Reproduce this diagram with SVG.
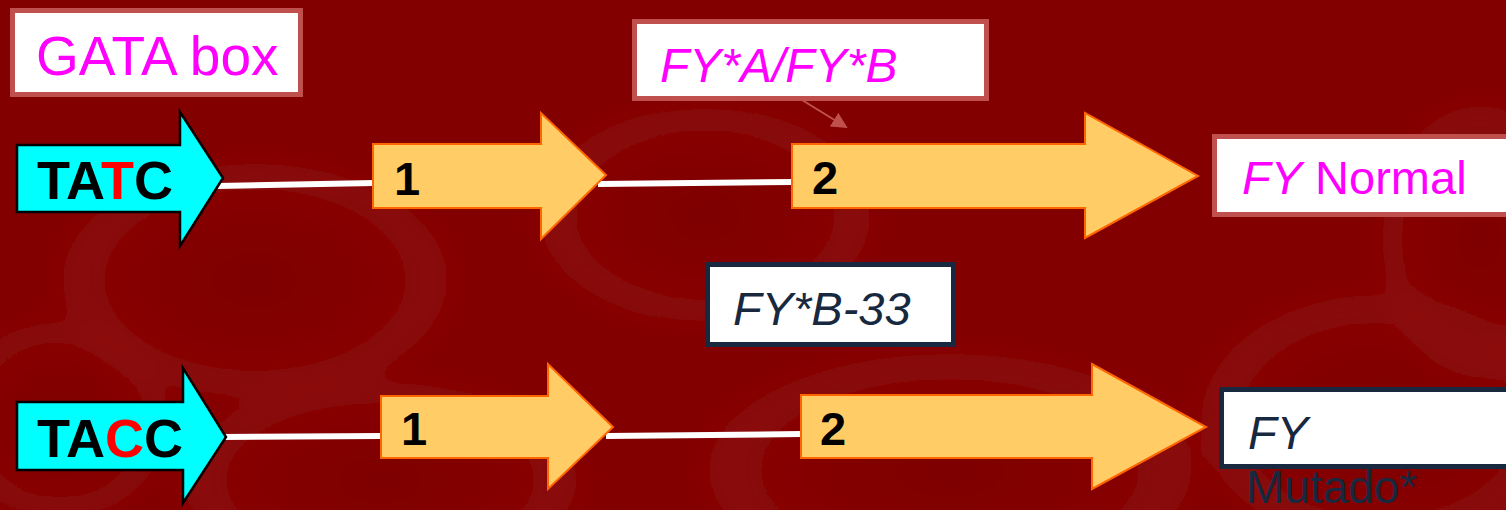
<svg xmlns="http://www.w3.org/2000/svg" width="1506" height="510" viewBox="0 0 1506 510">
  <defs>
    <radialGradient id="cell" cx="0.5" cy="0.5" r="0.5">
      <stop offset="0" stop-color="#7a0000" stop-opacity="0.5"/>
      <stop offset="0.55" stop-color="#870606" stop-opacity="0.45"/>
      <stop offset="0.85" stop-color="#931414" stop-opacity="0.55"/>
      <stop offset="1" stop-color="#8a0606" stop-opacity="0"/>
    </radialGradient>
    <marker id="tip" markerWidth="8" markerHeight="8" refX="7" refY="4" orient="auto" markerUnits="strokeWidth">
      <path d="M0,0 L8,4 L0,8 z" fill="#c0504d"/>
    </marker>
    <filter id="soft" x="-20%" y="-20%" width="140%" height="140%">
      <feGaussianBlur stdDeviation="12"/>
    </filter>
  </defs>
  <style>
    .lbl { font-family: "Liberation Sans", Arial, sans-serif; }
    .red-box { fill: #ffffff; stroke: #c0504d; stroke-width: 5; }
    .navy-box { fill: #ffffff; stroke: #17283f; stroke-width: 5; }
    .gene { fill: #ffcc66; stroke: #ff6600; stroke-width: 2; }
    .promoter { fill: #00ffff; stroke: #000000; stroke-width: 2.5; }
    .link { stroke: #ffffff; stroke-width: 6; fill: none; }
    .pink { fill: #ff00ff; }
    .navy { fill: #17283f; }
    .seq { font-weight: bold; font-size: 54px; fill: #000000; }
    .exon { font-weight: bold; font-size: 47px; fill: #000000; }
  </style>

  <!-- backdrop: dark red with soft blood cells -->
  <rect x="0" y="0" width="1506" height="510" fill="#820000"/>
  <g id="backdrop" filter="url(#soft)">
    <ellipse cx="255" cy="280" rx="215" ry="130" fill="url(#cell)"/>
    <ellipse cx="705" cy="215" rx="185" ry="120" fill="url(#cell)"/>
    <ellipse cx="950" cy="470" rx="270" ry="130" fill="url(#cell)"/>
    <ellipse cx="1380" cy="420" rx="200" ry="140" fill="url(#cell)"/>
    <ellipse cx="380" cy="480" rx="220" ry="110" fill="url(#cell)"/>
    <ellipse cx="60" cy="420" rx="120" ry="110" fill="url(#cell)"/>
    <ellipse cx="1480" cy="240" rx="110" ry="150" fill="url(#cell)"/>
  </g>

  <!-- connectors -->
  <g id="connectors">
    <line class="link" x1="218" y1="186" x2="374" y2="183"/>
    <line class="link" x1="598" y1="184" x2="793" y2="182"/>
    <line class="link" x1="222" y1="437" x2="381" y2="436"/>
    <line class="link" x1="606" y1="436" x2="801" y2="434"/>
    <line x1="802" y1="100" x2="846" y2="127" stroke="#c0504d" stroke-width="2" marker-end="url(#tip)"/>
  </g>

  <!-- label boxes -->
  <g id="gata-box">
    <rect class="red-box" x="12.5" y="10.5" width="288" height="84"/>
    <text class="lbl pink" x="36" y="75" font-size="55">GATA box</text>
  </g>

  <g id="fya-fyb">
    <rect class="red-box" x="634.5" y="21.5" width="352" height="77"/>
    <text class="lbl pink" x="660" y="82" font-size="48" font-style="italic">FY*A/FY*B</text>
  </g>

  <g id="fy-normal">
    <rect class="red-box" x="1214.5" y="136.5" width="300" height="78"/>
    <text class="lbl pink" x="1242" y="194" font-size="47"><tspan font-style="italic">FY</tspan> Normal</text>
  </g>

  <g id="fyb-33">
    <rect class="navy-box" x="707.5" y="264.5" width="246" height="80"/>
    <text class="lbl navy" x="733" y="325" font-size="47" font-style="italic">FY*B-33</text>
  </g>

  <g id="fy-mutado">
    <rect class="navy-box" x="1221.5" y="389.5" width="300" height="77"/>
    <text class="lbl navy" x="1248" y="449" font-size="47" font-style="italic">FY</text>
    <text class="lbl navy" x="1246" y="503" font-size="46">Mutado*</text>
  </g>

  <!-- upper row: TATC promoter, exons 1 and 2 -->
  <g id="tatc">
    <polygon class="promoter" points="17,145 180,145 180,112 223,178 180,246 180,212 17,212"/>
    <text class="lbl seq" x="37" y="199">TA<tspan fill="#ff0000">T</tspan>C</text>
  </g>

  <g id="exon1-top">
    <polygon class="gene" points="373,144 541,144 541,113 606,175 541,239 541,208 373,208"/>
    <text class="lbl exon" x="394" y="195">1</text>
  </g>

  <g id="exon2-top">
    <polygon class="gene" points="792,144 1085,144 1085,113 1198,176 1085,238 1085,208 792,208"/>
    <text class="lbl exon" x="812" y="194">2</text>
  </g>

  <!-- lower row: TACC promoter, exons 1 and 2 -->
  <g id="tacc">
    <polygon class="promoter" points="17,402 183,402 183,368 226,437 183,503 183,470 17,470"/>
    <text class="lbl seq" x="37" y="457">TA<tspan fill="#ff0000">C</tspan>C</text>
  </g>

  <g id="exon1-bottom">
    <polygon class="gene" points="381,396 548,396 548,364 613,427 548,489 548,458 381,458"/>
    <text class="lbl exon" x="401" y="445">1</text>
  </g>

  <g id="exon2-bottom">
    <polygon class="gene" points="801,395 1092,395 1092,364 1206,427 1092,489 1092,458 801,458"/>
    <text class="lbl exon" x="820" y="445">2</text>
  </g>
</svg>
